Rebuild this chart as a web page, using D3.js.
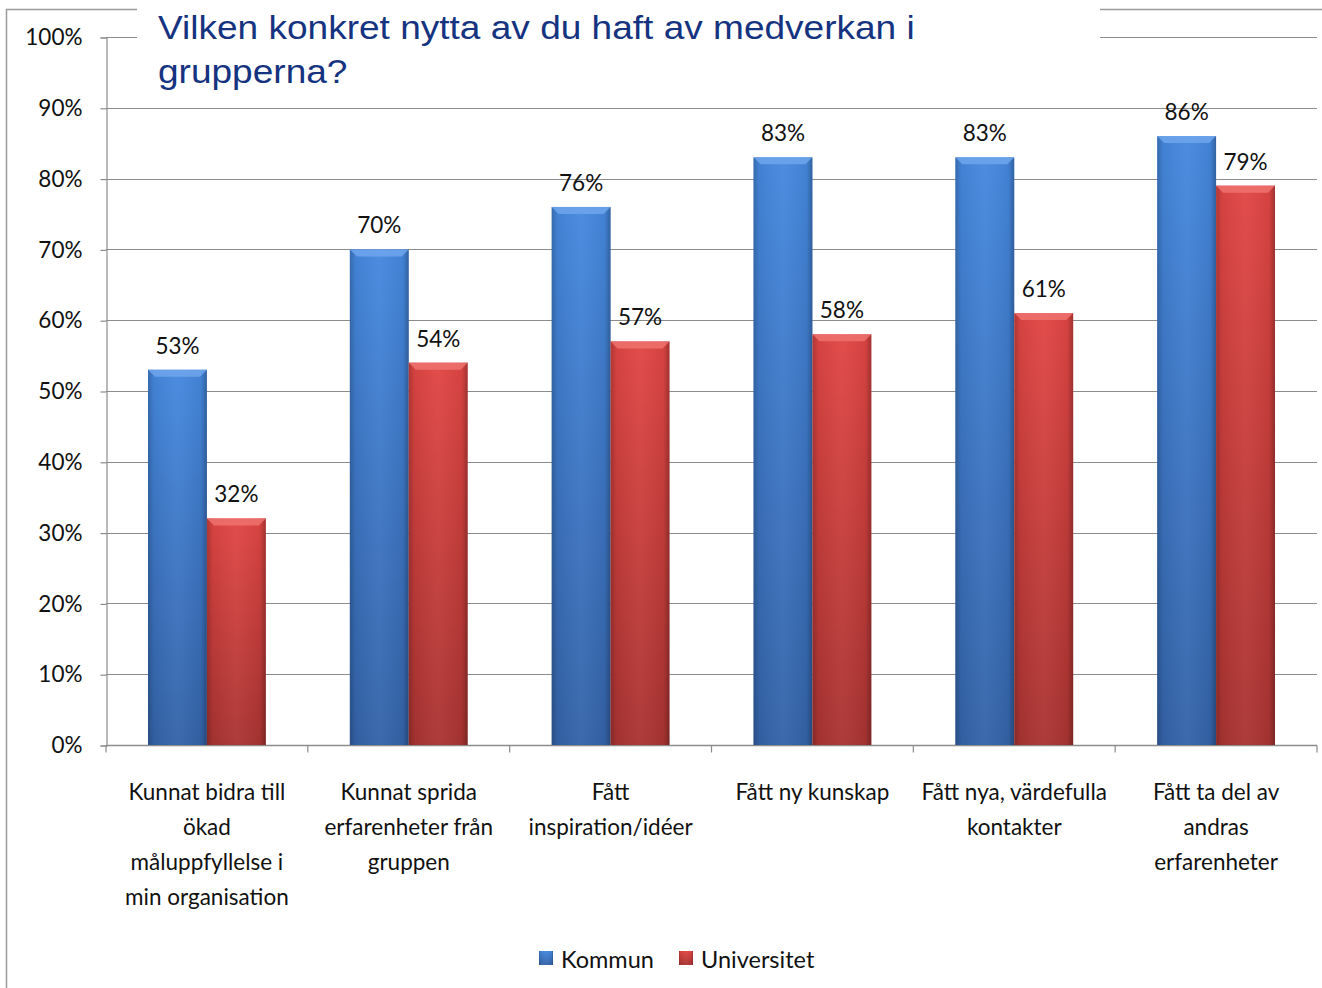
<!DOCTYPE html>
<html><head><meta charset="utf-8">
<script src="https://cdn.jsdelivr.net/npm/d3@7"></script>
<style>body{margin:0;background:#fff}svg{display:block}</style>
</head><body>
<svg id="c" width="1322" height="988"></svg>
<script>
const categories = [
  ["Kunnat bidra till","ökad","måluppfyllelse i","min organisation"],
  ["Kunnat sprida","erfarenheter från","gruppen"],
  ["Fått","inspiration/idéer"],
  ["Fått ny kunskap"],
  ["Fått nya, värdefulla","kontakter"],
  ["Fått ta del av","andras","erfarenheter"]
];
const seriesNames = ["Kommun","Universitet"];
const kommun = [53,70,76,83,83,86];
const universitet = [32,54,57,58,61,79];
const yTicks = [0,10,20,30,40,50,60,70,80,90,100];
const titleLines = ["Vilken konkret nytta av du haft av medverkan i","grupperna?"];

(function(){
const svg = d3.select("#c");
const W=1322,H=988;
const pL=106,pR=1317,pT=37,pB=745;
const labelFont = "Lato, 'Open Sans', sans-serif";

const x = d3.scaleBand().domain(d3.range(categories.length)).range([pL,pR]).padding(0);
const y = d3.scaleLinear().domain([0,100]).range([pB,pT]);
const barW = x.bandwidth()*0.292;

const defs = svg.append("defs");
function grad(id, stops, horiz){
  const g = defs.append("linearGradient").attr("id",id)
    .attr("x1",0).attr("y1",0).attr("x2",horiz?1:0).attr("y2",horiz?0:1);
  stops.forEach(s=>g.append("stop").attr("offset",s[0]).attr("stop-color",s[1]).attr("stop-opacity",s[2]===undefined?1:s[2]));
}
grad("gB",[[0,"#4588DE"],[1,"#3463A8"]]);
grad("gR",[[0,"#E04644"],[1,"#A93432"]]);
grad("gSide",[[0,"#000",0.22],[0.1,"#000",0.05],[0.5,"#fff",0.04],[0.9,"#000",0.05],[1,"#000",0.28]],true);

// outer border
svg.append("line").attr("x1",6.5).attr("x2",6.5).attr("y1",9).attr("y2",H).attr("stroke","#9a9a9a").attr("stroke-width",1.5);
svg.append("line").attr("x1",6).attr("x2",W).attr("y1",9.5).attr("y2",9.5).attr("stroke","#9a9a9a").attr("stroke-width",1.5);

// gridlines
svg.append("g").selectAll("line").data(yTicks.filter(d=>d>0)).join("line")
  .attr("x1",pL).attr("x2",pR).attr("y1",d=>Math.round(y(d))+0.5).attr("y2",d=>Math.round(y(d))+0.5)
  .attr("stroke","#8c8c8c").attr("stroke-width",1.2);

// y axis
const yAxis = d3.axisLeft(y).tickValues(yTicks).tickFormat(d=>d+"%").tickSize(6).tickPadding(18);
const gy = svg.append("g").attr("transform",`translate(${pL+0.5},0.5)`).call(yAxis);
gy.select(".domain").attr("stroke","#8c8c8c").attr("stroke-width",1.2);
gy.selectAll(".tick line").attr("stroke","#8c8c8c").attr("stroke-width",1.2);
gy.selectAll(".tick text").attr("font-family",labelFont).attr("font-size",22.5).attr("fill","#111");

// x axis
const gx = svg.append("g").attr("transform",`translate(0,${pB+0.5})`);
gx.append("line").attr("x1",pL).attr("x2",pR).attr("stroke","#8c8c8c").attr("stroke-width",1.5);
gx.selectAll("line.t").data(d3.range(categories.length+1)).join("line").attr("class","t")
  .attr("x1",i=>i<categories.length?x(i):pR).attr("x2",i=>i<categories.length?x(i):pR)
  .attr("y1",0).attr("y2",7).attr("stroke","#8c8c8c").attr("stroke-width",1.2);

// bars
const series = [kommun, universitet];
const fills = ["url(#gB)","url(#gR)"];
const bevel = ["#6FA6EC","#EE7270"];
const gBars = svg.append("g");
series.forEach((vals,si)=>{
  const bx = i => x(i)+x.bandwidth()/2 + (si===0?-barW:0);
  const g = gBars.append("g");
  g.selectAll("rect.b").data(vals).join("rect").attr("class","b")
    .attr("x",(d,i)=>bx(i)).attr("y",d=>y(d)).attr("width",barW).attr("height",d=>pB-y(d))
    .attr("fill",fills[si]);
  g.selectAll("rect.s").data(vals).join("rect").attr("class","s")
    .attr("x",(d,i)=>bx(i)).attr("y",d=>y(d)).attr("width",barW).attr("height",d=>pB-y(d))
    .attr("fill","url(#gSide)");
  g.selectAll("path.bev").data(vals).join("path").attr("class","bev")
    .attr("d",(d,i)=>{const x0=bx(i),x1=x0+barW,t=y(d),b=7;
      return `M${x0},${t}L${x1},${t}L${x1-b},${t+b}L${x0+b},${t+b}Z`;})
    .attr("fill",bevel[si]).attr("opacity",0.85);
  g.selectAll("text").data(vals).join("text")
    .attr("x",(d,i)=>bx(i)+barW/2).attr("y",d=>y(d)-16)
    .attr("text-anchor","middle").attr("font-family",labelFont).attr("font-size",22.5).attr("fill","#111")
    .text(d=>d+"%");
});

// category labels
const gl = svg.append("g");
categories.forEach((lines,i)=>{
  const t = gl.append("text").attr("text-anchor","middle").attr("font-family",labelFont)
    .attr("font-size",22.5).attr("fill","#111");
  lines.forEach((ln,j)=>t.append("tspan").attr("x",x(i)+x.bandwidth()/2).attr("y",800+j*35).text(ln));
});

// title box
svg.append("rect").attr("x",137).attr("y",0).attr("width",963).attr("height",96).attr("fill","#fff");
const tt = svg.append("text").attr("font-family","'Liberation Sans', Arial, sans-serif").attr("font-size",32.5).attr("fill","#15337F")
  .attr("transform","translate(158,0) scale(1.14,1)");
titleLines.forEach((ln,j)=>tt.append("tspan").attr("x",0).attr("y",39+j*44).text(ln));

// legend
const lg = svg.append("g");
const legX = [539,679];
seriesNames.forEach((n,i)=>{
  const gi = lg.append("g").attr("transform",`translate(${legX[i]},951)`);
  gi.append("rect").attr("width",14).attr("height",14).attr("fill",i===0?"url(#gB)":"url(#gR)");
  gi.append("rect").attr("width",14).attr("height",14).attr("fill","url(#gSide)");
  gi.append("text").attr("x",22).attr("y",17).attr("font-family",labelFont).attr("font-size",23.5).attr("fill","#111").text(n);
});
})();
</script>
</body></html>
